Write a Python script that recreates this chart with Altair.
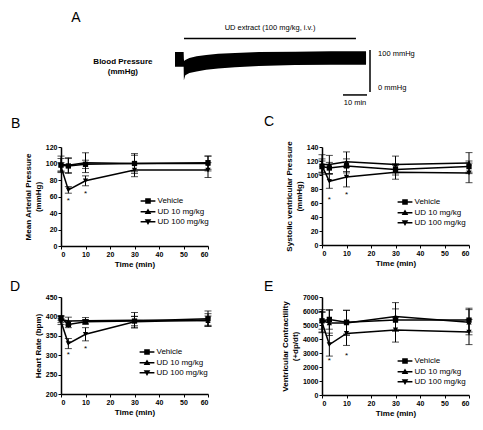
import altair as alt
import pandas as pd

FONT = "Liberation Sans"

# ---------------- data ----------------
times = [0, 3, 10, 30, 60]
series = ["Vehicle", "UD 10 mg/kg", "UD 100 mg/kg"]

# B  Mean arterial pressure (mmHg)
map_vehicle = [98, 97, 99, 100, 101]
map_vehicle_err = [8, 9, 5, 10, 8]
map_ud10 = [99, 98, 101, 100, 100]
map_ud10_err = [10, 9, 12, 12, 9]
map_ud100 = [96, 68, 79, 92, 92]
map_ud100_err = [5, 4, 6, 8, 9]
map_star_t = [3, 10]
map_star_v = [55, 63]

# C  Systolic ventricular pressure (mmHg)
svp_vehicle = [112, 110, 113, 108, 112]
svp_vehicle_err = [8, 8, 10, 8, 8]
svp_ud10 = [115, 115, 119, 115, 117]
svp_ud10_err = [14, 13, 14, 12, 15]
svp_ud100 = [113, 91, 97, 104, 103]
svp_ud100_err = [10, 10, 14, 10, 14]
svp_star_t = [3, 10]
svp_star_v = [65, 72]

# D  Heart rate (bpm)
hr_vehicle = [396, 379, 386, 388, 394]
hr_vehicle_err = [6, 8, 6, 12, 20]
hr_ud10 = [392, 388, 389, 390, 389]
hr_ud10_err = [8, 10, 8, 20, 12]
hr_ud100 = [387, 330, 354, 386, 391]
hr_ud100_err = [8, 13, 17, 14, 16]
hr_star_t = [3, 10]
hr_star_v = [301, 316]

# E  Ventricular contractility (+dp/dt)
dp_vehicle = [5300, 5400, 5200, 5350, 5350]
dp_vehicle_err = [800, 700, 850, 800, 850]
dp_ud10 = [5300, 5150, 5150, 5600, 5200]
dp_ud10_err = [600, 900, 900, 1000, 900]
dp_ud100 = [5200, 3600, 4400, 4650, 4500]
dp_ud100_err = [750, 820, 860, 870, 900]
dp_star_t = [3, 10]
dp_star_v = [2420, 2820]

# A  blood pressure trace (time in min, envelope in mmHg)
trace_t = [0, 3.6, 3.7, 3.9, 4.3, 6, 9, 13, 18, 25, 35, 50, 65, 79.6]
trace_hi = [95, 95, 78, 74, 76, 81, 85, 88, 91, 93, 95, 96, 97, 97]
trace_lo = [60, 60, 28, 32, 40, 45, 49, 53, 56, 59, 62, 64, 65, 65]
drug_start, drug_end = 3.75, 75.4

# legend glyphs: a thin bar (the line) with the series marker on it, all filled
legend_shapes = [
    "M-2.9,-0.3H2.9V0.3H-2.9ZM-1.1,-1.1H1.1V1.1H-1.1Z",
    "M-2.9,-0.3H2.9V0.3H-2.9ZM0,-1.3L1.3,0.95H-1.3Z",
    "M-2.9,-0.3H2.9V0.3H-2.9ZM0,1.3L-1.3,-0.95H1.3Z",
]


def make_df(vals, errs):
    rows = []
    for s, v, e in zip(series, vals, errs):
        for t, vv, ee in zip(times, v, e):
            rows.append({"t": t, "v": vv, "lo": vv - ee, "hi": vv + ee, "series": s})
    return pd.DataFrame(rows)


def panel(df, star_t, star_v, ydomain, ystep, ytitle, letter, toff, tdx, lx, ly, height):
    xs = alt.Scale(domain=[0, 60], nice=False)
    ys = alt.Scale(domain=ydomain, nice=False)
    xax = alt.Axis(values=[0, 10, 20, 30, 40, 50, 60], title="Time (min)")
    yax = alt.Axis(values=list(range(ydomain[0], ydomain[1] + 1, ystep)), title=ytitle, format="d")

    def X():
        return alt.X("t:Q", scale=xs, axis=xax)

    def Y(f):
        return alt.Y(f + ":Q", scale=ys, axis=yax)

    base = alt.Chart(df)
    rules = base.mark_rule(color="black", strokeWidth=1).encode(x=X(), y=Y("lo"), y2="hi:Q")
    cap_lo = base.mark_tick(color="black", orient="horizontal", size=7, thickness=1).encode(x=X(), y=Y("lo"))
    cap_hi = base.mark_tick(color="black", orient="horizontal", size=7, thickness=1).encode(x=X(), y=Y("hi"))
    lines = base.mark_line(color="black", strokeWidth=1.5).encode(x=X(), y=Y("v"), detail="series:N")
    pts = base.mark_point(filled=True, color="black", size=28, opacity=1).encode(
        x=X(),
        y=Y("v"),
        shape=alt.Shape(
            "series:N",
            scale=alt.Scale(domain=series, range=["square", "triangle-up", "triangle-down"]),
            legend=None,
        ),
    )
    # legend-only layer: its marks lie below the plotted range and are clipped away
    off = ydomain[0] - (ydomain[1] - ydomain[0])
    leg = alt.Chart(pd.DataFrame({"series": series, "t": [0, 0, 0], "v": [off] * 3})).mark_point(
        filled=True, color="black", size=26, opacity=1, clip=True
    ).encode(
        x=X(),
        y=Y("v"),
        shape=alt.Shape(
            "series:N",
            scale=alt.Scale(domain=series, range=legend_shapes),
            legend=alt.Legend(
                orient="none", legendX=lx, legendY=ly, title=None, padding=0,
                labelFont=FONT, labelFontSize=8, labelColor="black", labelOffset=5.5,
                rowPadding=-2.3, symbolSize=26, symbolFillColor="black", symbolOpacity=1,
            ),
        ),
    )
    sdf = pd.DataFrame({"t": star_t, "v": star_v})
    stars = alt.Chart(sdf).mark_text(text="*", font=FONT, fontSize=8, color="black", baseline="middle").encode(
        x=X(), y=Y("v"))
    return alt.layer(rules, cap_lo, cap_hi, lines, pts, leg, stars).resolve_scale(
        shape="independent").properties(
        width=147, height=height,
        title=alt.TitleParams(text=letter, anchor="start", frame="group", fontSize=14,
                              fontWeight="normal", font=FONT, color="black", dx=tdx, offset=toff),
    )


pB = panel(make_df([map_vehicle, map_ud10, map_ud100], [map_vehicle_err, map_ud10_err, map_ud100_err]),
           map_star_t, map_star_v, [0, 120], 20, ["Mean Arterial Pressure", "(mmHg)"], "B", 12, -50, 83, 50, 99)
pC = panel(make_df([svp_vehicle, svp_ud10, svp_ud100], [svp_vehicle_err, svp_ud10_err, svp_ud100_err]),
           svp_star_t, svp_star_v, [0, 140], 20, ["Systolic ventricular Pressure", "(mmHg)"], "C", 12, -58, 79, 51, 98)
pD = panel(make_df([hr_vehicle, hr_ud10, hr_ud100], [hr_vehicle_err, hr_ud10_err, hr_ud100_err]),
           hr_star_t, hr_star_v, [200, 450], 50, "Heart Rate (bpm)", "D", -1, -51, 82, 51, 97)
pE = panel(make_df([dp_vehicle, dp_ud10, dp_ud100], [dp_vehicle_err, dp_ud10_err, dp_ud100_err]),
           dp_star_t, dp_star_v, [0, 7000], 1000, ["Ventricular Contractility", "(+dp/dt)"], "E", -1, -58, 79, 60, 98)

# ---------------- panel A (drawn from the cell above B, overflowing to the right) ----------------
ax = alt.Scale(domain=[-47.5, 13.75], nice=False)
ay = alt.Scale(domain=[-9.5, 195], nice=False)


def AX(f="t"):
    return alt.X(f + ":Q", scale=ax, axis=None)


def AY(f="v"):
    return alt.Y(f + ":Q", scale=ay, axis=None)


trace = alt.Chart(pd.DataFrame({"t": trace_t, "hi": trace_hi, "lo": trace_lo})).mark_area(
    color="black", opacity=1).encode(x=AX(), y=AY("hi"), y2="lo:Q")
bars = alt.Chart(pd.DataFrame({
    "t": [drug_start, 81.25, 70], "t2": [drug_end, 81.25, 80], "v": [127, 0, -7], "v2": [127, 100, -7],
})).mark_rule(color="black", strokeWidth=1.5).encode(x=AX(), x2="t2:Q", y=AY(), y2="v2:Q")

ann_plain = alt.Chart(pd.DataFrame({
    "t": [39.6, 75], "v": [153, -26], "label": ["UD extract (100 mg/kg, i.v.)", "10 min"],
})).mark_text(font=FONT, fontSize=7.5, color="black", align="center", baseline="middle").encode(
    x=AX(), y=AY(), text="label:N")
ann_left = alt.Chart(pd.DataFrame({
    "t": [84.6, 84.6], "v": [90, 9], "label": ["100 mmHg", "0 mmHg"],
})).mark_text(font=FONT, fontSize=7.5, color="black", align="left", baseline="middle").encode(
    x=AX(), y=AY(), text="label:N")
ann_bold = alt.Chart(pd.DataFrame({
    "t": [-21.7, -21.7], "v": [71, 47], "label": ["Blood Pressure", "(mmHg)"],
})).mark_text(font=FONT, fontSize=8, fontWeight="bold", color="black", align="center", baseline="middle").encode(
    x=AX(), y=AY(), text="label:N")
ann_letter = alt.Chart(pd.DataFrame({"t": [-41.25], "v": [176], "label": ["A"]})).mark_text(
    font=FONT, fontSize=14, color="black", align="center", baseline="middle").encode(
    x=AX(), y=AY(), text="label:N")

pA = alt.layer(trace, bars, ann_plain, ann_left, ann_bold, ann_letter).properties(width=147, height=86)
blank = alt.Chart(pd.DataFrame({"t": [0.0], "v": [0.0]})).mark_point(opacity=0).encode(
    x=alt.X("t:Q", axis=None), y=alt.Y("v:Q", axis=None)).properties(width=147, height=86)

chart = alt.concat(pA, blank, pB, pC, pD, pE, columns=2, spacing={"row": 51, "column": 114},
                   bounds="flush").resolve_scale(shape="independent").resolve_legend(
    shape="independent").properties(padding=2).configure_view(strokeWidth=0).configure_axis(
    grid=False, domainColor="black", domainWidth=1.5, tickColor="black", tickWidth=1, tickSize=3,
    labelFont=FONT, labelFontSize=7, labelFontWeight="bold", labelColor="black", labelPadding=1,
    titleFont=FONT, titleFontSize=8, titleFontWeight="bold", titleColor="black", titlePadding=3,
)

chart.save("out.html", embed_options={"renderer": "svg", "actions": False})
